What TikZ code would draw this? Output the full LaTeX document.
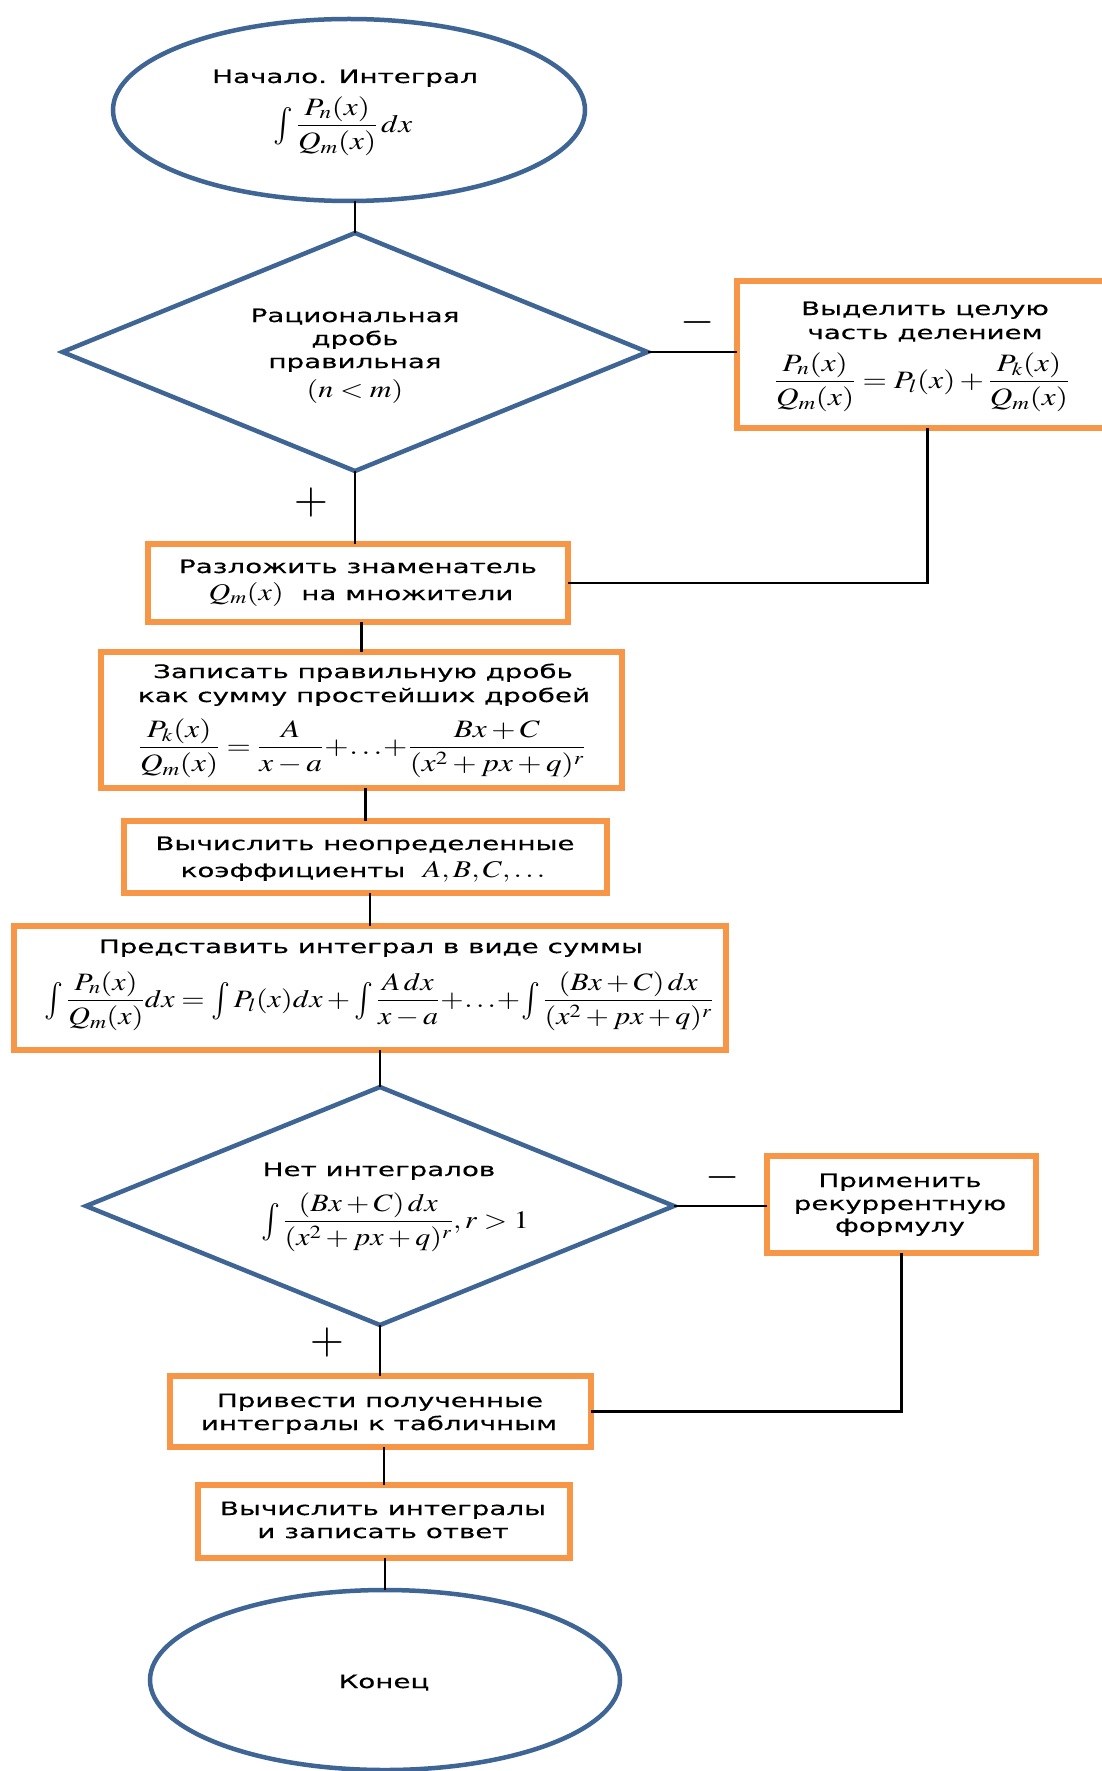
\documentclass[tikz,border=0pt]{standalone}
\usepackage{mathptmx}
\usepackage[no-math]{fontspec}
\setmainfont{DejaVu Sans}[FakeStretch=1.5,FakeBold=0.4]
\usepackage{graphicx}
\usetikzlibrary{shapes.geometric}
\definecolor{shapeblue}{HTML}{3E6594}
\definecolor{boxorange}{HTML}{F79646}
\newcommand\mathbox[2][1.25]{\scalebox{#1}[1]{$\displaystyle #2$}}
\newcommand\inmath[1]{{\fontsize{24}{27}\selectfont\scalebox{1.25}[1]{$#1$}}}
\newcommand\bint{\mathop{\vcenter{\hbox{\scalebox{1.05}[1.5]{$\textstyle\int$}}}}\nolimits}
\tikzset{
 bluebd/.style={draw=shapeblue, line width=4.5pt, inner sep=0pt, outer sep=0pt},
 oval/.style={bluebd, ellipse},
 decision/.style={bluebd, diamond},
 procbox/.style={draw=boxorange, line width=6pt, rectangle, inner sep=0pt, outer sep=0pt},
 txt/.style={anchor=base, inner sep=0pt, font=\fontsize{18.5}{22}\selectfont},
 mth/.style={inner sep=0pt, font=\fontsize{25}{28}\selectfont},
 conn/.style={draw=black, line width=2.5pt},
 sign/.style={inner sep=0pt, font=\fontsize{44}{44}\selectfont}
}
\begin{document}
\begin{tikzpicture}[x=1pt,y=-1pt]
\useasboundingbox (0,0) rectangle (1102,1771);
\fill[white] (0,0) rectangle (1102,1771);
\clip (0,0) rectangle (1102,1771);
% shapes
\node[oval, minimum width=472, minimum height=182] (start) at (349,110) {};
\node[decision, minimum width=585, minimum height=238] (d1) at (355,352) {};
\node[procbox, minimum width=381, minimum height=147] (b1) at (927.5,354.5) {};
\node[procbox, minimum width=420, minimum height=78] (b2) at (358,583) {};
\node[procbox, minimum width=521, minimum height=136] (b3) at (361.5,720) {};
\node[procbox, minimum width=483, minimum height=72] (b4) at (365.5,857) {};
\node[procbox, minimum width=712, minimum height=124] (b5) at (370,988) {};
\node[decision, minimum width=588, minimum height=238] (d2) at (380,1206) {};
\node[procbox, minimum width=269, minimum height=97] (b6) at (901.5,1204.5) {};
\node[procbox, minimum width=421, minimum height=71] (b7) at (380.5,1411.5) {};
\node[procbox, minimum width=372, minimum height=73] (b8) at (384,1521.5) {};
\node[oval, minimum width=470, minimum height=180] (end) at (385,1680) {};
% texts
\node[txt] (t0a) at (345,83) {Начало. Интеграл};
\node[mth] (t0b) at (343,126) {\mathbox{\bint\frac{P_n(x)}{Q_m(x)}\,dx}};
\node[txt] (t1a) at (355,322) {Рациональная};
\node[txt] (t1b) at (355,345) {дробь};
\node[txt] (t1c) at (355,368) {правильная};
\node[mth] (t1d) at (355,391) {\inmath{(n<m)}};
\node[txt] (t2a) at (925,315) {Выделить целую};
\node[txt] (t2b) at (925,339) {часть делением};
\node[mth] (t2c) at (922,382) {\mathbox{\frac{P_n(x)}{Q_m(x)}=P_l(x)+\frac{P_k(x)}{Q_m(x)}}};
\node[txt] (t3a) at (358,573) {Разложить знаменатель};
\node[txt] (t3b) at (361,600) {\inmath{Q_m(x)}\ \ на множители};
\node[txt] (t4a) at (363,678) {Записать правильную дробь};
\node[txt] (t4b) at (364,702) {как сумму простейших дробей};
\node[mth] (t4c) at (362,748) {\mathbox{\frac{P_k(x)}{Q_m(x)}=\frac{A}{x-a}\!+\!\ldots\!+\!\frac{Bx+C}{(x^2+px+q)^r}}};
\node[txt] (t5a) at (365,850) {Вычислить неопределенные};
\node[txt] (t5b) at (363,877) {коэффициенты\ \ \inmath{A,B,C,\ldots}};
\node[txt] (t6a) at (371,953) {Представить интеграл в виде суммы};
\node[mth] (t6b) at (379,1001) {\mathbox[1.2]{\bint\frac{P_n(x)}{Q_m(x)}dx=\bint P_l(x)dx+\bint\frac{A\,dx}{x-a}\!+\!\ldots\!+\!\bint\frac{(Bx+C)\,dx}{(x^2+px+q)^r}}};
\node[txt] (t7a) at (379,1176) {Нет интегралов};
\node[mth] (t7b) at (395,1222) {\mathbox[1.2]{\bint\frac{(Bx+C)\,dx}{(x^2+px+q)^r},r>1}};
\node[txt] (t8a) at (900,1187) {Применить};
\node[txt] (t8b) at (900,1210) {рекуррентную};
\node[txt] (t8c) at (900,1232) {формулу};
\node[txt] (t9a) at (380,1407) {Привести полученные};
\node[txt] (t9b) at (379,1430) {интегралы к табличным};
\node[txt] (t10a) at (383,1515) {Вычислить интегралы};
\node[txt] (t10b) at (383,1538) {и записать ответ};
\node[txt] (t11) at (384,1688) {Конец};
% signs
\node[sign] (m1) at (698,322) {$-$};
\node[sign] (p1) at (311,503) {$+$};
\node[sign] (m2) at (723,1177) {$-$};
\node[sign] (p2) at (327,1342) {$+$};
% connectors
\draw[conn] (d1.north |- start.south) -- (d1.north);
\draw[conn] (d1.east) -- (d1.east -| b1.west);
\draw[conn] (b1.south) -- (b1.south |- b2.east) -- (b2.east);
\draw[conn] (d1.south) -- (d1.south |- b2.north);
\draw[conn] (b3.north |- b2.south) -- (b3.north);
\draw[conn] (b4.north |- b3.south) -- (b4.north);
\draw[conn] (b5.north |- b4.south) -- (b5.north);
\draw[conn] (d2.north |- b5.south) -- (d2.north);
\draw[conn] (d2.east) -- (d2.east -| b6.west);
\draw[conn] (b6.south) -- (b6.south |- b7.east) -- (b7.east);
\draw[conn] (d2.south) -- (d2.south |- b7.north);
\draw[conn] (b8.north |- b7.south) -- (b8.north);
\draw[conn] (end.north |- b8.south) -- (end.north);
\end{tikzpicture}
\end{document}
